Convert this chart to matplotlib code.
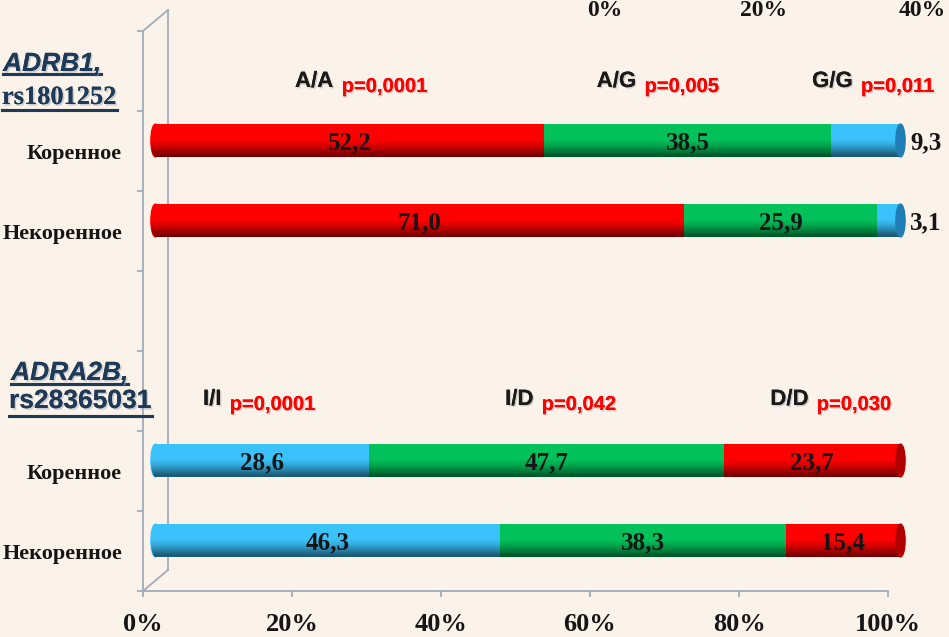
import matplotlib
matplotlib.use("Agg")
import matplotlib.pyplot as plt
import matplotlib.patheffects as pe
from matplotlib.patches import Ellipse, Polygon
from matplotlib.lines import Line2D
import numpy as np

# genotype shares, % (Коренное / Некоренное)
adrb1_native = [52.2, 38.5, 9.3]
adrb1_nonnative = [71.0, 25.9, 3.1]
adra2b_native = [28.6, 47.7, 23.7]
adra2b_nonnative = [46.3, 38.3, 15.4]

adrb1_genotypes = ["A/A", "A/G", "G/G"]
adrb1_pvalues = ["p=0,0001", "p=0,005", "p=0,011"]
adra2b_genotypes = ["I/I", "I/D", "D/D"]
adra2b_pvalues = ["p=0,0001", "p=0,042", "p=0,030"]

group_labels = ["Коренное", "Некоренное"]
x_ticks = [0, 20, 40, 60, 80, 100]
top_ticks = [0, 20, 40]

W, H = 949, 637
BG = "#FBF2E9"
FRAME = "#A2ACB9"
NAVY = "#1F3A57"
RED, RED_DARK = "#FF0000", "#B00000"
GREEN, GREEN_DARK = "#00C15A", "#007A38"
BLUE, BLUE_DARK = "#3BC2FA", "#1F7DB4"
SERIF = "Liberation Serif"
SANS = "Liberation Sans"

adrb1_colors = [(RED, RED_DARK), (GREEN, GREEN_DARK), (BLUE, BLUE_DARK)]
adra2b_colors = [(BLUE, BLUE_DARK), (GREEN, GREEN_DARK), (RED, RED_DARK)]

fig = plt.figure(figsize=(W / 100, H / 100), dpi=100)
fig.patch.set_facecolor(BG)

# front plane of the 3d frame: axis lines, ticks, labels
ax_f = fig.add_axes([143 / W, 46 / H, 745 / W, 560 / H])
ax_f.set_facecolor("none")
ax_f.set_xlim(0, 100)
ax_f.set_ylim(-0.5, 6.5)
for s in ["top", "right"]:
    ax_f.spines[s].set_visible(False)
for s in ["left", "bottom"]:
    ax_f.spines[s].set_color(FRAME)
    ax_f.spines[s].set_linewidth(1.3)
ax_f.set_xticks(x_ticks, [f"{t}%" for t in x_ticks])
ax_f.set_yticks(np.arange(-0.5, 7, 1))
ax_f.set_yticklabels([])
ax_f.set_yticks([0, 1, 4, 5], [group_labels[1], group_labels[0]] * 2, minor=True)
ax_f.tick_params(axis="both", which="major", length=4.5, width=1.3, color=FRAME)
ax_f.tick_params(axis="x", pad=11, labelsize=19, labelcolor="#151515")
ax_f.tick_params(axis="y", which="minor", length=0, pad=15, labelsize=16, labelcolor="#151515")
for lab in ax_f.get_xticklabels() + ax_f.get_yticklabels(minor=True):
    lab.set_fontfamily(SERIF)
    lab.set_fontweight("bold")

# back wall edges
dx, dy = 25 / 745, 21 / 560
for xs, ys in [([dx, dx], [dy, 1 + dy]), ([0, dx], [0, dy]), ([0, dx], [1, 1 + dy])]:
    ax_f.add_line(Line2D(xs, ys, transform=ax_f.transAxes, color=FRAME, lw=1.3, clip_on=False))

# bars sit a bit deeper in the box; a margin of 2% on both sides keeps the end caps inside
PX = 7.45
ax_b = fig.add_axes([(155.5 - 2 * PX) / W, 56.5 / H, 104 * PX / W, 560 / H])
ax_b.set_facecolor("none")
ax_b.axis("off")

BAR_H = 0.41
rx = 4.6 / PX
t = np.linspace(0, 1, 80)
shade = np.zeros((80, 1, 4))
shade[:, 0, 3] = np.clip((t - 0.45) / 0.55, 0, 1) ** 1.3 * 0.6

rows = [(5, adrb1_native, adrb1_colors), (4, adrb1_nonnative, adrb1_colors),
        (1, adra2b_native, adra2b_colors), (0, adra2b_nonnative, adra2b_colors)]

for y, vals, cols in rows:
    lefts = np.concatenate([[0], np.cumsum(vals)[:-1]])
    end = lefts[-1] + vals[-1]
    ax_b.add_patch(Ellipse((0, y), 2 * rx, BAR_H, color=cols[0][0], zorder=2))
    ax_b.barh(y, vals, left=lefts, height=BAR_H, color=[c[0] for c in cols],
              edgecolor="none", zorder=2)
    # cylinder shading
    th = np.linspace(np.pi / 2, 3 * np.pi / 2, 30)
    outline = np.column_stack([rx * np.cos(th), y + BAR_H / 2 * np.sin(th)])
    outline = np.vstack([outline, [[end, y - BAR_H / 2], [end, y + BAR_H / 2]]])
    clip = Polygon(outline, closed=True, transform=ax_b.transData)
    img = ax_b.imshow(shade, extent=(-rx, end, y - BAR_H / 2, y + BAR_H / 2),
                      aspect="auto", interpolation="bilinear", zorder=3)
    img.set_clip_path(clip)
    # end face of the cylinder
    ax_b.add_patch(Ellipse((end, y), 2 * rx, BAR_H, color=cols[-1][1], zorder=4))
    for left, v in zip(lefts, vals):
        label = f"{v:.1f}".replace(".", ",")
        if v < 12:
            ax_b.text(left + v + 1.3, y, label, ha="left", va="center_baseline",
                      fontsize=18, fontfamily=SERIF, fontweight="bold", color="#151515", zorder=5)
        else:
            ax_b.text(left + v / 2, y, label, ha="center", va="center_baseline",
                      fontsize=18, fontfamily=SERIF, fontweight="bold", color="#151515", zorder=5)

ax_b.set_xlim(-2, 102)
ax_b.set_ylim(-0.5, 6.5)

# genotype headers with p-values
shadow = [pe.withSimplePatchShadow(offset=(1, -1), shadow_rgbFace="#777777", alpha=0.3), pe.Normal()]
header_rows = [(5.8, [20.4, 60.9, 89.8], adrb1_genotypes, adrb1_pvalues),
               (1.825, [8.05, 48.6, 84.2], adra2b_genotypes, adra2b_pvalues)]
for y, xs, gts, pvals in header_rows:
    for x, g, p in zip(xs, gts, pvals):
        gt = ax_f.text(x, y, g, ha="left", va="baseline", fontsize=16, fontfamily=SANS,
                       fontweight="bold", color="#1a1a1a", path_effects=shadow)
        ax_f.annotate(p, xy=(1, 0), xycoords=gt, xytext=(6, 0), textcoords="offset points",
                      ha="left", va="baseline", fontsize=14.5, fontfamily=SANS,
                      fontweight="bold", color=RED, path_effects=shadow)

# partial top scale
for tk in top_ticks:
    fig.text((605 + tk * 158.5 / 20) / W, 1 - 11 / H, f"{tk}%", ha="center", va="center",
             fontsize=17, fontfamily=SERIF, fontweight="bold", color="#151515")

# gene names, underlined
gene_texts = [("ADRB1,", 3, 71, SANS, "italic", 3),
              ("rs1801252", 2, 104, SERIF, "normal", 6),
              ("ADRA2B,", 11, 380, SANS, "italic", 4),
              ("rs28365031", 9, 408, SANS, "normal", 8)]
title_shadow = [pe.withSimplePatchShadow(offset=(1.2, -1.2), shadow_rgbFace="#8FA3B8", alpha=0.45), pe.Normal()]
fig.canvas.draw()
renderer = fig.canvas.get_renderer()
for txt, x, base, fam, style, gap in gene_texts:
    tx = fig.text(x / W, 1 - base / H, txt, ha="left", va="baseline", fontsize=19,
                  fontfamily=fam, fontstyle=style, fontweight="bold", color=NAVY,
                  path_effects=title_shadow)
    bb = tx.get_window_extent(renderer)
    yl = 1 - (base + gap) / H
    fig.add_artist(Line2D([bb.x0 / W, bb.x1 / W], [yl, yl], transform=fig.transFigure,
                          color=NAVY, lw=2.2, path_effects=title_shadow))

fig.savefig("out.png", dpi=100, facecolor=BG)
